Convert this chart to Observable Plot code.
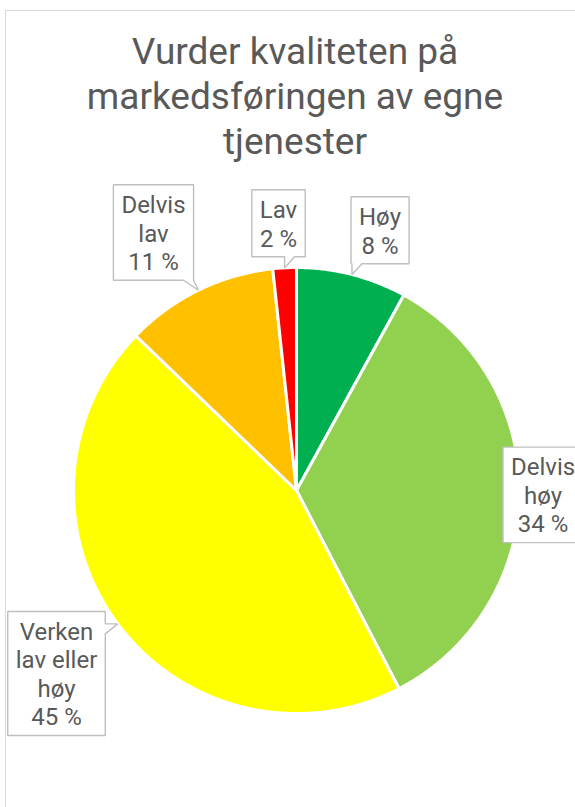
<!DOCTYPE html>
<html>
<head>
<meta charset="utf-8">
<script src="https://cdn.jsdelivr.net/npm/d3@7"></script>
<script src="https://cdn.jsdelivr.net/npm/@observablehq/plot@0.6"></script>
<style>
  html, body { margin: 0; padding: 0; background: #fff; overflow: hidden; }
  #page { position: relative; width: 575px; height: 807px; overflow: hidden; background: #fff; }
  #frame { position: absolute; left: 5px; top: 10px; width: 640px; height: 900px; border: 1px solid #d9d9d9; box-sizing: border-box; }
  #title { position: absolute; left: 0; top: 29px; width: 590px; text-align: center; font-family: Roboto, sans-serif; font-size: 37px; line-height: 45px; color: #595959; }
  #chart { position: absolute; left: 0; top: 160px; }
</style>
</head>
<body>
<div id="page">
  <div id="frame"></div>
  <div id="title">Vurder kvaliteten på<br>markedsføringen av egne<br>tjenester</div>
  <div id="chart"></div>
</div>
<script>
// ---- data ----
const categories = ["Høy", "Delvis høy", "Verken lav eller høy", "Delvis lav", "Lav"];
const percentages = [8.0, 34.4, 44.8, 11.1, 1.7];
const labelLines = ["Høy", "Delvis\nhøy", "Verken\nlav eller\nhøy", "Delvis\nlav", "Lav"];
const colors = ["#00B050", "#92D050", "#FFFF00", "#FFC000", "#FF0000"];

// ---- layout ----
const W = 575, H = 647, CX = 296, CY = 330, R = 223;
const FS = 24, LH = 28.5;
const labelNudge = [[17, -1], [-21, 1], [-25.5, 23], [-25.3, -17.7], [-3.7, 0]];

const arcs = d3.pie().sort(null).value(d => d)(percentages);

// slice polygons in unit coordinates
const slicePts = [];
arcs.forEach((a, i) => {
  slicePts.push({cat: categories[i], x: 0, y: 0});
  const n = Math.max(2, Math.ceil((a.endAngle - a.startAngle) / 0.005));
  for (let k = 0; k <= n; k++) {
    const t = a.startAngle + (a.endAngle - a.startAngle) * k / n;
    slicePts.push({cat: categories[i], x: Math.sin(t), y: Math.cos(t)});
  }
});

// text measurement
const ctx = document.createElement("canvas").getContext("2d");
ctx.font = `${FS}px Roboto`;
const clamp = (v, lo, hi) => Math.max(lo, Math.min(hi, v));
const toU = ([px, py]) => ({x: (px - CX) / R, y: (CY - py) / R});

function callout(cx, cy, hw, hh, tip) {
  const L = cx - hw, Rr = cx + hw, T = cy - hh, B = cy + hh, w = 10;
  const inside = tip[0] >= L && tip[0] <= Rr && tip[1] >= T && tip[1] <= B;
  if (inside) return [[L, T], [Rr, T], [Rr, B], [L, B]];
  if (tip[1] > B) { const s = clamp(tip[0], L, Rr - w); return [[L, T], [Rr, T], [Rr, B], [s + w, B], tip, [s, B], [L, B]]; }
  if (tip[1] < T) { const s = clamp(tip[0], L, Rr - w); return [[L, T], [s, T], tip, [s + w, T], [Rr, T], [Rr, B], [L, B]]; }
  if (tip[0] > Rr) { const s = clamp(tip[1], T, B - w); return [[L, T], [Rr, T], [Rr, s], tip, [Rr, s + w], [Rr, B], [L, B]]; }
  const s = clamp(tip[1], T, B - w); return [[L, T], [Rr, T], [Rr, B], [L, B], [L, s + w], tip, [L, s]];
}

const labels = [];
const boxPts = [];
arcs.forEach((a, i) => {
  const mid = (a.startAngle + a.endAngle) / 2;
  const cx = CX + 1.2 * R * Math.sin(mid) + labelNudge[i][0];
  const cy = CY - 1.2 * R * Math.cos(mid) + labelNudge[i][1];
  const text = `${labelLines[i]}\n${Math.round(percentages[i])} %`;
  const lines = text.split("\n");
  const tw = d3.max(lines, l => ctx.measureText(l).width);
  const hw = (tw + 16) / 2, hh = (lines.length * LH + 10) / 2;
  const tip = [CX + R * Math.sin(mid), CY - R * Math.cos(mid)];
  callout(cx, cy, hw, hh, tip).forEach(p => boxPts.push({cat: categories[i], ...toU(p)}));
  labels.push({cat: categories[i], text, ...toU([cx, cy])});
});

const chart = Plot.plot({
  width: W, height: H, margin: 0,
  style: {fontFamily: "Roboto, sans-serif", background: "transparent"},
  x: {domain: [-1, 1], range: [CX - R, CX + R], axis: null},
  y: {domain: [-1, 1], range: [CY + R, CY - R], axis: null},
  color: {domain: categories, range: colors},
  marks: [
    Plot.line(slicePts, {x: "x", y: "y", z: "cat", fill: "cat", stroke: "white", strokeWidth: 3, strokeLinejoin: "miter", curve: "linear-closed"}),
    Plot.line(boxPts, {x: "x", y: "y", z: "cat", fill: "white", stroke: "#bfbfbf", strokeWidth: 1.4, strokeLinejoin: "miter", curve: "linear-closed"}),
    Plot.text(labels, {x: "x", y: "y", text: "text", fontSize: FS, lineHeight: LH / FS, fill: "#595959", fontFamily: "Roboto"})
  ]
});
document.getElementById("chart").appendChild(chart);
</script>
</body>
</html>
